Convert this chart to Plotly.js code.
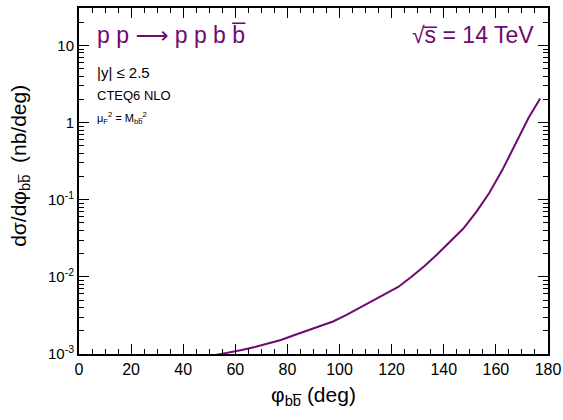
<!DOCTYPE html>
<html>
<head>
<meta charset="utf-8">
<script src="https://cdn.plot.ly/plotly-3.0.1.min.js"></script>
<style>html,body{margin:0;padding:0;background:#fff;}#chart{width:563px;height:420px;}</style>
</head>
<body>
<div id="chart"></div>
<script>
// Azimuthal angle between b and b-bar (deg), bin centres
const phiBB = [52.5, 57.5, 62.5, 67.5, 72.5, 77.5, 82.5, 87.5, 92.5, 97.5, 102.5, 107.5, 112.5, 117.5, 122.5, 127.5, 132.5, 137.5, 142.5, 147.5, 152.5, 157.5, 162.5, 167.5, 172.5, 177.0];
// dσ/dφ (nb/deg)
const dsigma = [0.00097, 0.00104, 0.00113, 0.00123, 0.00136, 0.00152, 0.00175, 0.00201, 0.00231, 0.00264, 0.0032, 0.00394, 0.00482, 0.00586, 0.0074, 0.00995, 0.0137, 0.0196, 0.0286, 0.0423, 0.0695, 0.123, 0.244, 0.542, 1.15, 2.05];

const yTickVals = [0.001, 0.01, 0.1, 1, 10];
const yTickText = ['10<sup>-3</sup>', '10<sup>-2</sup>', '10<sup>-1</sup>', '1', '10'];
const xTickVals = [0, 20, 40, 60, 80, 100, 120, 140, 160, 180];

const purple = '#6e0a70';
const yMinor = [];
for (const d of [0.001, 0.01, 0.1, 1, 10]) {
  for (let k = 2; k <= 9; k++) { const v = d * k; if (v < 30) yMinor.push(v); }
}

const trace = {
  x: phiBB, y: dsigma, type: 'scatter', mode: 'lines',
  line: {color: purple, width: 2},
  hoverinfo: 'skip', showlegend: false
};

const layout = {
  width: 563, height: 420,
  margin: {l: 79, r: 14.5, t: 8, b: 66},
  paper_bgcolor: '#fff', plot_bgcolor: '#fff',
  font: {family: 'Liberation Sans, Arial, sans-serif', color: '#000'},
  xaxis: {
    range: [0, 180], tickmode: 'array', tickvals: xTickVals,
    ticks: 'inside', ticklen: 10, tickwidth: 1, tickcolor: '#000',
    showline: true, linecolor: '#000', linewidth: 2, mirror: 'allticks',
    showgrid: false, zeroline: false,
    tickfont: {size: 16, color: '#000'},
    minor: {tickmode: 'linear', tick0: 0, dtick: 5, ticks: 'inside', ticklen: 5, tickcolor: '#000', showgrid: false},
    title: {text: 'φ<sub>bb̅</sub> (deg)', font: {size: 21, color: '#000'}, standoff: 10}
  },
  yaxis: {
    type: 'log', range: [-3, 1.486], tickmode: 'array', tickvals: yTickVals, ticktext: yTickText,
    ticks: 'inside', ticklen: 10, tickwidth: 1, tickcolor: '#000',
    showline: true, linecolor: '#000', linewidth: 2, mirror: 'allticks',
    showgrid: false, zeroline: false,
    tickfont: {size: 15, color: '#000'},
    minor: {tickmode: 'array', tickvals: yMinor, ticks: 'inside', ticklen: 5, tickcolor: '#000', showgrid: false}
  },
  annotations: [
    {text: 'dσ/dφ<sub>bb̅</sub>  (nb/deg)', xref: 'paper', yref: 'paper', x: -0.125, y: 0.545,
     xanchor: 'center', yanchor: 'middle', textangle: -90, showarrow: false, font: {size: 21, color: '#000'}},
    {text: 'p p <span style="font-family:DejaVu Sans">⟶</span> p p b b̅', xref: 'paper', yref: 'paper', x: 0.035, y: 0.965,
     xanchor: 'left', yanchor: 'top', showarrow: false, font: {size: 23, color: purple}},
    {text: '√s̅ = 14 TeV', xref: 'paper', yref: 'paper', x: 0.975, y: 0.965,
     xanchor: 'right', yanchor: 'top', showarrow: false, font: {size: 23, color: purple}},
    {text: '|y| ≤ 2.5', xref: 'paper', yref: 'paper', x: 0.035, y: 0.845,
     xanchor: 'left', yanchor: 'top', showarrow: false, font: {size: 15, color: '#000'}},
    {text: 'CTEQ6 NLO', xref: 'paper', yref: 'paper', x: 0.035, y: 0.775,
     xanchor: 'left', yanchor: 'top', showarrow: false, font: {size: 13, color: '#000'}},
    {text: 'μ<sub>F</sub><sup>2</sup> = M<sub>bb̅</sub><sup>2</sup>', xref: 'paper', yref: 'paper', x: 0.035, y: 0.71,
     xanchor: 'left', yanchor: 'top', showarrow: false, font: {size: 11, color: '#000'}}
  ]
};

Plotly.newPlot('chart', [trace], layout, {displayModeBar: false});
</script>
</body>
</html>
